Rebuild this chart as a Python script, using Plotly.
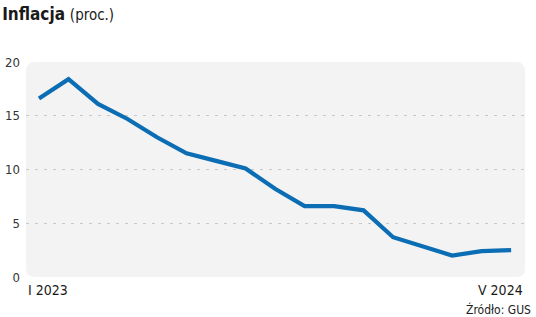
import plotly.graph_objects as go

months = ["I 2023", "II", "III", "IV", "V", "VI", "VII", "VIII", "IX", "X", "XI", "XII",
          "I 2024", "II", "III", "IV", "V 2024"]
inflation = [16.6, 18.4, 16.1, 14.7, 13.0, 11.5, 10.8, 10.1, 8.2, 6.6, 6.6, 6.2,
             3.7, 2.8, 2.0, 2.4, 2.5]
y_ticks = [0, 5, 10, 15, 20]
grid_vals = [5, 10, 15]
x_labels = ["I 2023", "V 2024"]
source = "Źródło: GUS"

FONT = "DejaVu Sans Condensed, Liberation Sans Narrow, Roboto, sans-serif"
W, H = 536, 317
ML, MR, MT, MB = 26, 11, 62, 40
pw, ph = W - ML - MR, H - MT - MB

x_idx = list(range(len(months)))

fig = go.Figure()
fig.add_trace(go.Scatter(
    x=x_idx, y=inflation, mode="lines",
    line=dict(color="#0b6db3", width=4.2),
    hoverinfo="skip", yaxis="y"))
# invisible trace on overlay axis for gridlines
fig.add_trace(go.Scatter(x=[x_idx[0]], y=[grid_vals[0]], mode="markers",
                         marker=dict(opacity=0), yaxis="y2", hoverinfo="skip"))

# rounded background rectangle in paper coords
r = 9
rx, ry = r / pw, r / ph
path = (f"M {rx},0 L {1-rx},0 Q 1,0 1,{ry} L 1,{1-ry} Q 1,1 {1-rx},1 "
        f"L {rx},1 Q 0,1 0,{1-ry} L 0,{ry} Q 0,0 {rx},0 Z")
fig.add_shape(type="path", path=path, xref="paper", yref="paper",
              fillcolor="#f3f3f3", line=dict(width=0), layer="below")

fig.update_layout(
    width=W, height=H,
    margin=dict(l=ML, r=MR, t=MT, b=MB, autoexpand=False),
    paper_bgcolor="white", plot_bgcolor="rgba(0,0,0,0)",
    showlegend=False,
    font=dict(family=FONT, color="#222222", size=13),
    title=dict(
        text="<b>Inflacja</b> <span style='font-size:15px'>(proc.)</span>",
        font=dict(family=FONT, size=17, color="#1a1a1a"),
        xref="container", yref="container", x=0.004, y=1 - 14 / H,
        xanchor="left", yanchor="middle"),
    xaxis=dict(range=[-0.44, 16.47], showgrid=False, zeroline=False,
               showticklabels=False, showline=False, fixedrange=True,
               automargin=False),
    yaxis=dict(range=[0, 20], tickvals=y_ticks, showgrid=False, zeroline=False,
               showline=False, ticks="", ticklabelstandoff=5, automargin=False,
               tickfont=dict(size=13, color="#333333")),
    yaxis2=dict(range=[0, 20], overlaying="y", tickvals=grid_vals,
                showticklabels=False, showgrid=True, gridcolor="#c8c8c8",
                griddash="3px,6px", gridwidth=1, zeroline=False, showline=False,
                automargin=False),
)

fig.add_annotation(text=x_labels[0], xref="paper", yref="paper", x=0, y=-13 / ph,
                   xanchor="left", yanchor="middle", showarrow=False,
                   font=dict(size=14, color="#1a1a1a"))
fig.add_annotation(text=x_labels[1], xref="paper", yref="paper", x=1, y=-13 / ph,
                   xanchor="right", yanchor="middle", showarrow=False,
                   font=dict(size=14, color="#1a1a1a"))
fig.add_annotation(text=source, xref="paper", yref="paper", x=1 + 8 / pw, y=-32 / ph,
                   xanchor="right", yanchor="middle", showarrow=False,
                   font=dict(size=12, color="#222222"))

fig.write_html("out.html", config={"displayModeBar": False})
